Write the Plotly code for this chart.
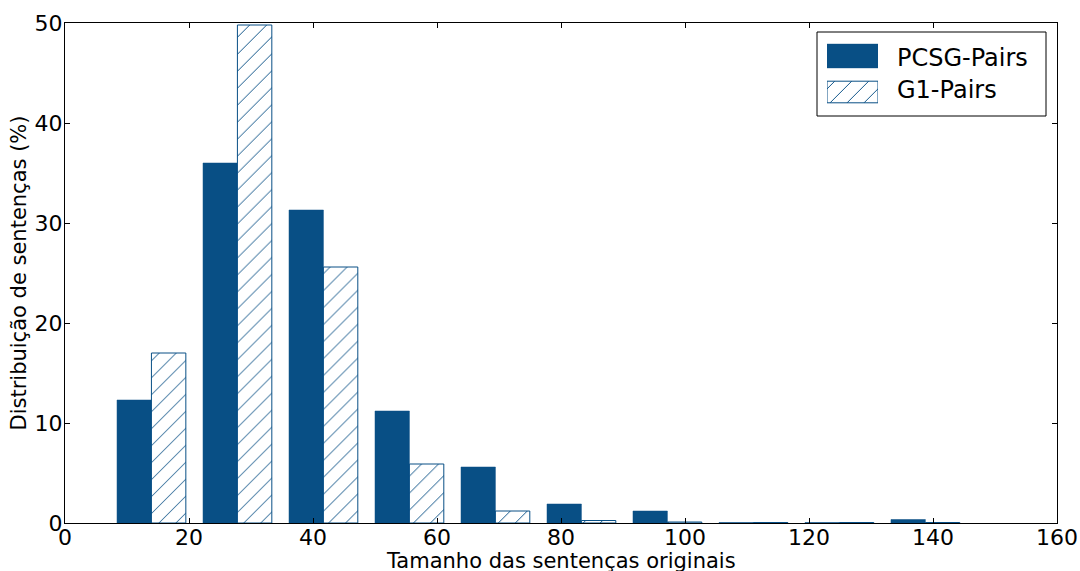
import plotly.graph_objects as go

# Histogram bins (sentence length)
bin_first_center = 13.94
bin_width = 13.87
n_bins = 10
bin_centers = [bin_first_center + i * bin_width for i in range(n_bins)]

pcsg_pairs = [12.3, 36.0, 31.3, 11.2, 5.6, 1.9, 1.2, 0.05, 0.05, 0.35]
g1_pairs = [17.0, 49.8, 25.6, 5.9, 1.2, 0.25, 0.1, 0.05, 0.05, 0.05]

series_names = ["PCSG-Pairs", "G1-Pairs"]
x_title = "Tamanho das sentenças originais"
y_title = "Distribuição de sentenças (%)"

x_ticks = [0, 20, 40, 60, 80, 100, 120, 140, 160]
y_ticks = [0, 10, 20, 30, 40, 50]

BLUE = "#084f85"
HATCH = dict(shape="/", fgcolor=BLUE, bgcolor="white", size=12,
             solidity=0.08, fillmode="replace", fgopacity=1)

# plot-area geometry (pixels) used for legend placement
L, R, T, B = 65, 1057, 23, 523
W, H = R - L, B - T
def px(x): return (x - L) / W
def py(y): return (B - y) / H

fig = go.Figure()
fig.add_trace(go.Bar(
    x=bin_centers, y=pcsg_pairs, name=series_names[0], showlegend=False,
    marker=dict(color=BLUE, line=dict(color=BLUE, width=0.5)),
))
fig.add_trace(go.Bar(
    x=bin_centers, y=g1_pairs, name=series_names[1], showlegend=False,
    marker=dict(color="white", line=dict(color=BLUE, width=1), pattern=HATCH),
))

# legend swatches drawn as an inset bar chart
fig.add_trace(go.Bar(
    x=[1], y=[1], orientation="h", xaxis="x2", yaxis="y2", width=0.66,
    showlegend=False, hoverinfo="skip",
    marker=dict(color=BLUE, line=dict(color=BLUE, width=0.5)),
))
fig.add_trace(go.Bar(
    x=[1], y=[0], orientation="h", xaxis="x2", yaxis="y2", width=0.6,
    showlegend=False, hoverinfo="skip",
    marker=dict(color="white", line=dict(color=BLUE, width=1), pattern=HATCH),
))

axis_common = dict(
    showgrid=False, zeroline=False, showline=True, linecolor="black",
    linewidth=1, mirror="ticks", ticks="inside", ticklen=5, automargin=False,
    tickcolor="black", tickfont=dict(family="DejaVu Sans", size=22, color="black"),
)

fig.update_layout(
    width=1080, height=571,
    margin=dict(l=L, r=1080 - R, t=T, b=571 - B),
    plot_bgcolor="white", paper_bgcolor="white",
    barmode="group", bargap=0.2, bargroupgap=0,
    font=dict(family="DejaVu Sans", color="black"),
    showlegend=False,
    xaxis=dict(range=[0, 160], tickvals=x_ticks, **axis_common,
               ticklabelstandoff=-5),
    yaxis=dict(range=[0, 50], tickvals=y_ticks, **axis_common,
               ticklabelstandoff=-3,
               title=dict(text=y_title, font=dict(size=21), standoff=2)),
    xaxis2=dict(domain=[px(827), px(878)], range=[0, 1], visible=False,
                fixedrange=True),
    yaxis2=dict(domain=[py(110), py(38)], range=[-0.5, 1.5], visible=False,
                fixedrange=True),
    shapes=[dict(type="rect", xref="paper", yref="paper",
                 x0=px(817), x1=px(1046), y0=py(116), y1=py(32),
                 line=dict(color="black", width=1), fillcolor="rgba(0,0,0,0)",
                 layer="below")],
    annotations=[
        dict(text=x_title, xref="paper", yref="paper", x=0.5, y=py(561),
             xanchor="center", yanchor="middle", showarrow=False,
             font=dict(size=21, family="DejaVu Sans", color="black")),
        dict(text=series_names[0], xref="paper", yref="paper", x=px(895),
             y=py(58), xanchor="left", yanchor="middle", showarrow=False,
             font=dict(size=24, family="DejaVu Sans", color="black")),
        dict(text=series_names[1], xref="paper", yref="paper", x=px(895),
             y=py(90), xanchor="left", yanchor="middle", showarrow=False,
             font=dict(size=24, family="DejaVu Sans", color="black")),
    ],
)

fig.write_html("out.html", config={"displayModeBar": False},
               post_script="document.body.style.margin='0';")
